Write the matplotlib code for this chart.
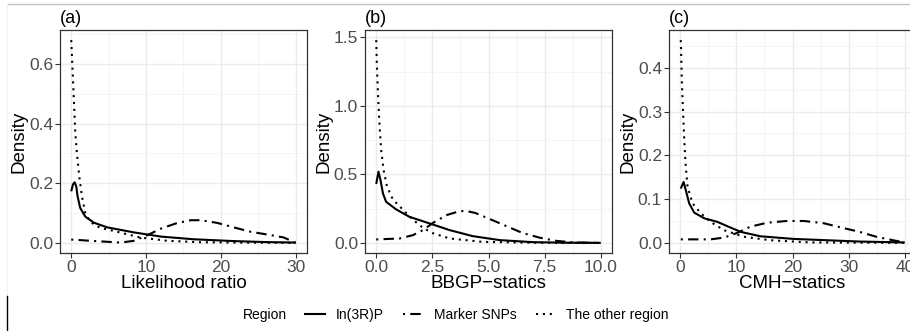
import matplotlib.pyplot as plt
from matplotlib.lines import Line2D
from matplotlib.ticker import MultipleLocator

plt.rcParams.update({
    'font.family': ['Liberation Sans', 'DejaVu Sans'],
    'axes.unicode_minus': True,
})

# ---- data (density curves) ----
# (a) Likelihood ratio
a_in_x = [0.0, 0.23, 0.45, 0.67, 0.85, 1.2, 1.88, 3.0, 4.8, 8.4, 12.0, 16.4, 21.7, 26.2, 30.0]
a_in_y = [0.173, 0.196, 0.203, 0.19, 0.156, 0.117, 0.088, 0.068, 0.052, 0.035, 0.021, 0.012, 0.006, 0.0025, 0.001]
a_mk_x = [0.0, 3.9, 6.6, 8.4, 10.2, 12.0, 14.2, 16.0, 17.3, 19.5, 21.7, 24.0, 26.2, 28.4, 30.0]
a_mk_y = [0.011, 0.005, 0.001, 0.007, 0.026, 0.048, 0.067, 0.076, 0.076, 0.067, 0.052, 0.037, 0.028, 0.018, 0.0]
a_ot_x = [0.0, 0.23, 0.54, 0.76, 1.07, 1.43, 1.88, 2.55, 3.89, 5.2, 9.2, 12.8, 17.3, 22.0, 30.0]
a_ot_y = [0.68, 0.55, 0.37, 0.30, 0.224, 0.156, 0.10, 0.07, 0.05, 0.043, 0.018, 0.007, 0.002, 0.001, 0.0]

# (b) BBGP-statics
b_in_x = [0.0, 0.1, 0.19, 0.3, 0.44, 0.89, 1.48, 2.3, 3.27, 4.3, 5.5, 7.0, 8.5, 10.0]
b_in_y = [0.43, 0.52, 0.459, 0.36, 0.30, 0.244, 0.19, 0.146, 0.093, 0.049, 0.02, 0.005, 0.001, 0.0]
b_mk_x = [0.0, 1.04, 1.63, 2.08, 2.53, 3.12, 3.7, 4.0, 4.4, 5.0, 5.8, 6.5, 7.3, 8.0, 8.8, 10.0]
b_mk_y = [0.025, 0.032, 0.056, 0.093, 0.146, 0.202, 0.231, 0.233, 0.219, 0.178, 0.122, 0.073, 0.037, 0.015, 0.003, 0.0]
b_ot_x = [0.0, 0.03, 0.09, 0.15, 0.22, 0.33, 0.48, 0.74, 1.19, 1.63, 2.08, 2.53, 3.27, 4.75, 7.0, 10.0]
b_ot_y = [1.48, 1.289, 1.044, 0.849, 0.678, 0.53, 0.41, 0.317, 0.242, 0.17, 0.11, 0.07, 0.032, 0.007, 0.001, 0.0]

# (c) CMH-statics
c_in_x = [0.1, 0.6, 1.0, 1.6, 2.5, 4.3, 6.6, 8.4, 10.8, 14.3, 20.2, 26.1, 32.0, 40.0]
c_in_y = [0.124, 0.139, 0.12, 0.09, 0.069, 0.056, 0.048, 0.038, 0.025, 0.015, 0.009, 0.006, 0.003, 0.001]
c_mk_x = [0.1, 5.4, 7.8, 10.2, 12.5, 15.5, 19.0, 22.0, 25.5, 29.0, 32.0, 34.9, 37.9, 40.0]
c_mk_y = [0.008, 0.008, 0.012, 0.023, 0.037, 0.046, 0.05, 0.05, 0.045, 0.034, 0.025, 0.014, 0.006, 0.001]
c_ot_x = [0.1, 0.3, 0.54, 0.72, 0.95, 1.3, 2.2, 3.7, 5.4, 7.8, 11.3, 16.05, 23.1, 40.0]
c_ot_y = [0.463, 0.364, 0.288, 0.235, 0.181, 0.128, 0.09, 0.067, 0.048, 0.029, 0.014, 0.006, 0.001, 0.0]

region_labels = ['In(3R)P', 'Marker SNPs', 'The other region']
panel_tags = ['(a)', '(b)', '(c)']
x_titles = ['Likelihood ratio', 'BBGP\u2212statics', 'CMH\u2212statics']

panels = [
    dict(curves=[(a_in_x, a_in_y), (a_mk_x, a_mk_y), (a_ot_x, a_ot_y)],
         xmaj=10, xmin=5, ymaj=0.2, ymin=0.1, xfmt='{:.0f}', yfmt='{:.1f}'),
    dict(curves=[(b_in_x, b_in_y), (b_mk_x, b_mk_y), (b_ot_x, b_ot_y)],
         xmaj=2.5, xmin=1.25, ymaj=0.5, ymin=0.25, xfmt='{:.1f}', yfmt='{:.1f}'),
    dict(curves=[(c_in_x, c_in_y), (c_mk_x, c_mk_y), (c_ot_x, c_ot_y)],
         xmaj=10, xmin=5, ymaj=0.1, ymin=0.05, xfmt='{:.0f}', yfmt='{:.1f}'),
]

LW = 1.5
styles = [
    dict(linestyle='-'),
    dict(linestyle=(0, (1, 2.5, 5, 2.5))),
    dict(linestyle=(0, (1, 2.3))),
]

W, H = 910, 331
fig = plt.figure(figsize=(W / 100, H / 100), dpi=100)

lefts = [60, 365, 669]
pw, top, bottom = 247, 30, 253

for i, p in enumerate(panels):
    ax = fig.add_axes([lefts[i] / W, (H - bottom) / H, pw / W, (bottom - top) / H])
    allx = [v for cx, _ in p['curves'] for v in cx]
    ally = [v for _, cy in p['curves'] for v in cy]
    xr = max(allx) - min(min(allx), 0)
    yr = max(ally) - min(ally)
    ax.set_xlim(min(min(allx), 0) - 0.05 * xr, max(allx) + 0.05 * xr)
    ax.set_ylim(min(ally) - 0.05 * yr, max(ally) + 0.05 * yr)

    ax.xaxis.set_major_locator(MultipleLocator(p['xmaj']))
    ax.xaxis.set_minor_locator(MultipleLocator(p['xmin']))
    ax.yaxis.set_major_locator(MultipleLocator(p['ymaj']))
    ax.yaxis.set_minor_locator(MultipleLocator(p['ymin']))
    ax.xaxis.set_major_formatter(plt.FuncFormatter(lambda v, _, f=p['xfmt']: f.format(v)))
    ax.yaxis.set_major_formatter(plt.FuncFormatter(lambda v, _, f=p['yfmt']: f.format(v)))

    ax.grid(True, which='major', color='#EBEBEB', linewidth=1.0)
    ax.grid(True, which='minor', color='#F3F3F3', linewidth=0.6)
    ax.set_axisbelow(True)

    for (cx, cy), st in zip(p['curves'], styles):
        ax.plot(cx, cy, color='black', linewidth=LW, dash_capstyle='butt',
                solid_capstyle='butt', **st)

    for s in ax.spines.values():
        s.set_color('#333333')
        s.set_linewidth(0.9)
    ax.tick_params(which='major', length=3.5, width=0.8, color='#333333',
                   labelsize=12.5, labelcolor='#4D4D4D', pad=1.5)
    ax.tick_params(which='minor', length=0)

    ax.set_ylabel('Density', fontsize=13.5)
    ax.yaxis.set_label_coords(-0.165, 0.5)
    ax.set_xlabel(x_titles[i], fontsize=13.5)
    ax.xaxis.set_label_coords(0.5, -0.138)
    ax.xaxis.label.set_va('center')
    ax.yaxis.label.set_va('center')

    ax.text(0.0, 1.05, panel_tags[i], transform=ax.transAxes, fontsize=13,
            ha='left', va='center')

# legend at bottom
handles = [Line2D([], [], color='black', linewidth=LW, dash_capstyle='butt', **st)
           for st in styles]
fig.text(243 / W, (H - 315) / H, 'Region', fontsize=10, ha='left', va='center')
fig.legend(handles, region_labels, loc='center', bbox_to_anchor=(487 / W, (H - 315) / H),
           ncol=3, frameon=False, fontsize=10, handlelength=1.45, handletextpad=0.75,
           columnspacing=1.4, borderpad=0, borderaxespad=0)

# page decorations seen in the picture
fig.add_artist(Line2D([7 / W, 1], [(H - 4) / H] * 2, color='#C4C4C4', linewidth=1.0))
fig.add_artist(Line2D([7 / W] * 2, [(H - 4) / H, (H - 296) / H], color='#F4F4F4', linewidth=0.8))
fig.add_artist(Line2D([7 / W] * 2, [0, (H - 296) / H], color='black', linewidth=1.0))

fig.savefig('out.png', dpi=100)
